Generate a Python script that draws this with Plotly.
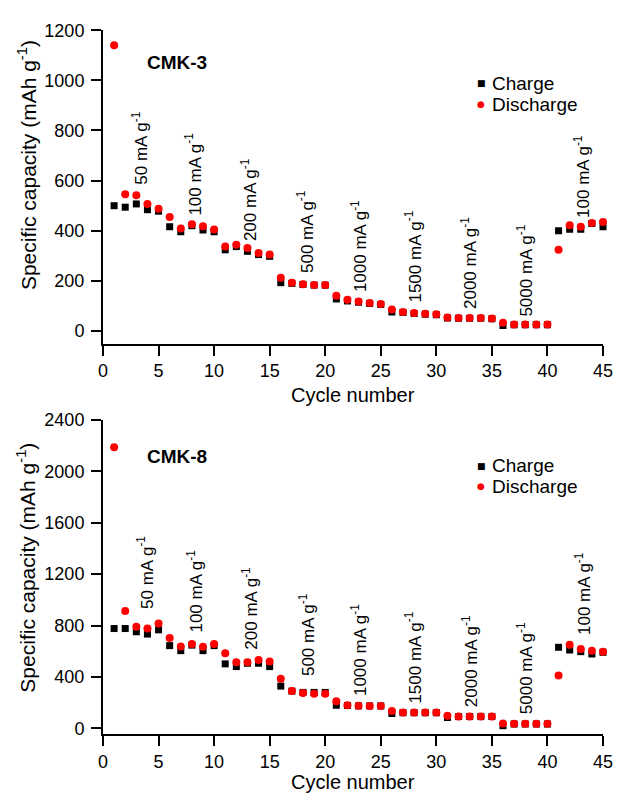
import plotly.graph_objects as go
from plotly.subplots import make_subplots

cycles = list(range(1, 46))

cmk3_charge = [500, 494, 507, 484, 478, 416, 396, 420, 403, 396,
               324, 337, 318, 305, 298, 193, 190, 186, 183, 183,
               128, 120, 115, 110, 106, 76, 74, 70, 67, 65,
               52, 51, 51, 51, 49, 22, 25, 25, 25, 25,
               400, 406, 406, 429, 416]
cmk3_discharge = [1140, 546, 542, 507, 488, 455, 409, 426, 418, 405,
                  337, 344, 331, 311, 305, 213, 193, 187, 184, 184,
                  141, 125, 118, 112, 108, 86, 76, 72, 69, 67,
                  54, 52, 52, 52, 50, 33, 26, 26, 26, 26,
                  324, 422, 416, 431, 435]

cmk8_charge = [777, 777, 752, 734, 767, 644, 605, 648, 605, 644,
               502, 481, 507, 507, 481, 329, 290, 280, 280, 280,
               180, 178, 175, 175, 175, 116, 122, 122, 122, 122,
               85, 92, 92, 92, 92, 21, 34, 34, 34, 34,
               631, 610, 597, 579, 592]
cmk8_discharge = [2188, 914, 790, 777, 816, 703, 638, 656, 636, 656,
                  584, 515, 515, 533, 520, 386, 291, 275, 270, 270,
                  211, 180, 176, 175, 175, 136, 124, 124, 124, 124,
                  98, 93, 93, 93, 93, 39, 36, 36, 36, 36,
                  412, 651, 618, 605, 597]

rate_values = ["50", "100", "200", "500", "1000", "1500", "2000", "5000", "100"]
sample_names = ["CMK-3", "CMK-8"]
series_names = ["Charge", "Discharge"]
x_title = "Cycle number"
y_title = "Specific capacity (mAh g<sup>-1</sup>)"

# label anchor positions (cycle, capacity) for each panel
rate_pos_top = [(3.3, 730), (8.1, 624), (13.2, 525), (18.2, 396), (23.0, 337),
                (27.9, 297), (33.0, 270), (38.0, 242), (43.05, 616)]
rate_pos_bot = [(3.8, 1211), (8.25, 1070), (13.26, 934), (18.3, 729), (23.0, 606),
                (27.9, 551), (33.0, 520), (38.0, 470), (43.2, 1046)]

FONT = "Arial, Liberation Sans, Helvetica, sans-serif"
OFF = 8  # default page body margin
W, H = 625 - OFF, 793 - OFF
# plot area in page pixels: x 103..612, y 20.5..735
L_PG, R_PG, T_PG, B_PG = 103, 612, 20.5, 735
ML, MR, MT, MB = L_PG - OFF, W - (R_PG - OFF), T_PG - OFF, H - (B_PG - OFF)
PW, PH = W - ML - MR, H - MT - MB


def py(p):
    """page pixel y -> paper fraction"""
    return 1 - (p - T_PG) / PH


def px(p):
    """page pixel x -> paper fraction"""
    return (p - L_PG) / PW


fig = make_subplots(rows=2, cols=1)

panels = [
    (1, cmk3_charge, cmk3_discharge),
    (2, cmk8_charge, cmk8_discharge),
]
for row, ch, dis in panels:
    fig.add_trace(go.Scatter(x=cycles, y=ch, mode="markers", name=series_names[0],
                             marker=dict(symbol="square", size=7, color="black"),
                             showlegend=False, cliponaxis=False), row=row, col=1)
    fig.add_trace(go.Scatter(x=cycles, y=dis, mode="markers", name=series_names[1],
                             marker=dict(symbol="circle", size=8, color="#ff0000"),
                             showlegend=False, cliponaxis=False), row=row, col=1)

axis_common = dict(showline=True, linecolor="black", linewidth=2, ticks="outside",
                   ticklen=10, tickwidth=2, tickcolor="black", showgrid=False,
                   zeroline=False, tickfont=dict(family=FONT, size=18, color="black"))

fig.update_xaxes(range=[0, 45], dtick=5, tick0=0, **axis_common)
fig.update_yaxes(ticklabelstandoff=3, **axis_common)
fig.update_yaxes(range=[-50, 1200], dtick=200, tick0=0, row=1, col=1)
fig.update_yaxes(range=[-46, 2400], dtick=400, tick0=0, row=2, col=1)

fig.update_layout(
    yaxis=dict(domain=[py(338.3), py(20.7)]),
    yaxis2=dict(domain=[py(734.3), py(415.7)]),
)

ann = []
for xr, yr, pos in [("x", "y", rate_pos_top), ("x2", "y2", rate_pos_bot)]:
    for txt, (cx, cy) in zip(rate_values, pos):
        ann.append(dict(x=cx, y=cy, xref=xr, yref=yr, text=f"{txt} mA g<sup>-1</sup>",
                        textangle=-90, showarrow=False,
                        font=dict(family=FONT, size=17, color="black")))

# sample names
ann.append(dict(x=3.8, y=1073, xref="x", yref="y", text=f"<b>{sample_names[0]}</b>",
                xanchor="left", yanchor="middle", showarrow=False,
                font=dict(family=FONT, size=19, color="black")))
ann.append(dict(x=3.8, y=2114, xref="x2", yref="y2", text=f"<b>{sample_names[1]}</b>",
                xanchor="left", yanchor="middle", showarrow=False,
                font=dict(family=FONT, size=19, color="black")))

# legend-like keys (page pixel rows)
for yc, yd in [(74.5, 95.5), (462, 483)]:
    for yy, glyph, col, name in [(yc, "■", "black", series_names[0]),
                                 (yd, "●", "#ff0000", series_names[1])]:
        ann.append(dict(x=px(488), y=py(yy), xref="paper", yref="paper", text=glyph,
                        showarrow=False, xanchor="center", yanchor="middle",
                        font=dict(family="DejaVu Sans", size=9, color=col)))
        ann.append(dict(x=px(497), y=py(yy), xref="paper", yref="paper", text=name,
                        showarrow=False, xanchor="left", yanchor="middle",
                        font=dict(family=FONT, size=19, color="black")))

# axis titles
for yc in (157, 565):
    ann.append(dict(x=px(25), y=py(yc), xref="paper", yref="paper", text=y_title,
                    textangle=-90, showarrow=False, xanchor="center", yanchor="middle",
                    font=dict(family=FONT, size=21, color="black")))
for yc in (390, 783):
    ann.append(dict(x=px(357.5), y=py(yc), xref="paper", yref="paper", text=x_title,
                    showarrow=False, xanchor="center", yanchor="middle",
                    font=dict(family=FONT, size=20, color="black")))

fig.update_layout(
    width=W, height=H,
    margin=dict(l=ML, r=MR, t=MT, b=MB, pad=0),
    paper_bgcolor="white", plot_bgcolor="white",
    showlegend=False,
    annotations=ann,
    font=dict(family=FONT, color="black"),
)

fig.write_html("out.html")
